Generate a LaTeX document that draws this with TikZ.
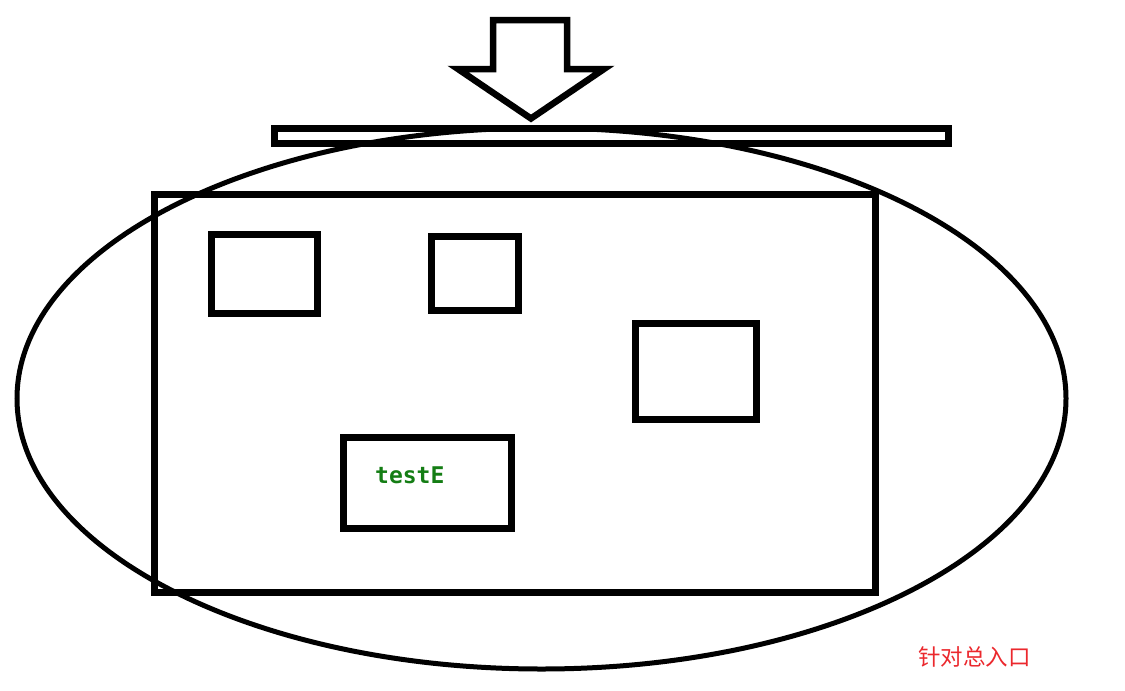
\documentclass[tikz,border=0pt]{standalone}
\usepackage{fontspec}
\usepackage{tikz}
\usetikzlibrary{calc,positioning}
\newfontfamily\cjk{Noto Sans CJK SC}
\newfontfamily\codefont{DejaVu Sans Mono}
\newcommand{\myunit}{1pt}
\definecolor{codegreen}{RGB}{20,125,20}
\definecolor{notered}{RGB}{235,40,45}
\tikzset{
    boxsty/.style={draw,line width=7pt,rectangle,inner sep=0pt,outer sep=0pt,anchor=center},
    ovalsty/.style={draw,line width=5pt},
    arrowsty/.style={draw,line width=6.5pt,line join=miter},
    codesty/.style={font=\codefont\bfseries\fontsize{23}{26}\selectfont,text=codegreen,inner sep=0pt},
    notesty/.style={font=\cjk\fontsize{22.5}{26}\selectfont,text=notered,inner sep=0pt},
}

\begin{document}
\begin{tikzpicture}[x=\myunit, y=-\myunit]

\useasboundingbox (0,0) rectangle (1125,691);

% the big oval
\draw [ovalsty] (541.5,398.5) ellipse [x radius=524.5, y radius=270.5];

% arrow and bar
\draw [arrowsty] (493,20) -- (567,20) -- (567,69) -- (604,69) -- (531,118.5)
    -- (458,69) -- (493,69) -- cycle;
\node (bar) [boxsty, minimum width=674*\myunit, minimum height=15*\myunit] at (611.6,135.7) {};

% boxes
\node (outer) [boxsty, minimum width=721*\myunit, minimum height=398*\myunit] at (514.5,393) {};
\node (boxA) [boxsty, minimum width=106.5*\myunit, minimum height=79*\myunit] at (264.25,273.5) {};
\node (boxB) [boxsty, minimum width=87*\myunit, minimum height=74*\myunit] at (474.5,273) {};
\node (boxC) [boxsty, minimum width=121*\myunit, minimum height=96*\myunit] at (695.8,371.7) {};
\node (boxE) [boxsty, minimum width=167.6*\myunit, minimum height=91*\myunit] at (427.5,482.5) {};
\node (testE) [codesty, anchor=west] at (375,475) {testE};

% note
\node (note) [notesty, anchor=west] at (918,657) {针对总入口};

\end{tikzpicture}
\end{document}
